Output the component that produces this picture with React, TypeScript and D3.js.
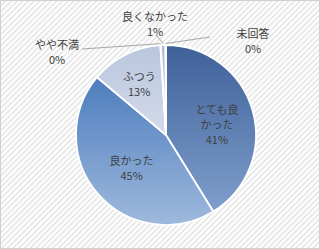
import React from "react";
import * as d3 from "d3";

const categories = ["とても良かった", "良かった", "ふつう", "やや不満", "良くなかった", "未回答"];
const values = [41.2, 44.9, 12.9, 0.1, 0.8, 0.1];
const labelLines = [["とても良", "かった"], ["良かった"], ["ふつう"], ["やや不満"], ["良くなかった"], ["未回答"]];

const W = 320, H = 249;
const CX = 166, CY = 135, R = 90;

const gradTop = ["#3f6199", "#4c7dbd", "#b9c6de", "#c9d3e6", "#a8b9d6", "#6d8cc0"];
const gradBot = ["#7f9ecc", "#9fb9dd", "#d3dbea", "#d3dbea", "#c0cde2", "#8aa5d0"];

// label layout: inside -> radius factor + nudge; outside -> label anchor + leader start
const insideR: Record<number, { f: number; dx: number; dy: number }> = {
  0: { f: 0.6, dx: -1, dy: 4 },
  1: { f: 0.52, dx: 1, dy: 1.5 },
  2: { f: 0.66, dx: 0, dy: 2 },
};
const outside: Record<number, { x: number; y: number; lx: number; ly: number }> = {
  3: { x: 57, y: 44, lx: 82, ly: 49 },
  4: { x: 155, y: 16, lx: 157, ly: 36 },
  5: { x: 253, y: 33, lx: 210, ly: 37 },
};

export default function App() {
  const pie = d3.pie<number>().sort(null).value((d) => d)(values);
  const arc = d3.arc<d3.PieArcDatum<number>>().innerRadius(0).outerRadius(R);
  const pct = (v: number) => Math.round((v / d3.sum(values)) * 100) + "%";
  const fs = 11;
  const lh = 15;
  return (
    <svg width={W} height={H} style={{ position: "absolute", left: 0, top: 0 }} fontFamily="'Noto Sans CJK JP', 'Noto Sans', sans-serif">
      <defs>
        <pattern id="bg" width="4" height="4" patternUnits="userSpaceOnUse" patternTransform="rotate(-45)">
          <rect width="4" height="4" fill="#ffffff" />
          <rect width="4" height="1.6" fill="#e4e4e4" />
        </pattern>
        {pie.map((p, i) => (
          <linearGradient key={i} id={"g" + i} x1="0" y1="0" x2="0" y2="1">
            <stop offset="0" stopColor={gradTop[i]} />
            <stop offset="1" stopColor={gradBot[i]} />
          </linearGradient>
        ))}
      </defs>
      <rect x={0.5} y={0.5} width={W - 1} height={H - 1} fill="url(#bg)" stroke="#d0d0d0" />
      <g transform={`translate(${CX},${CY})`}>
        {pie.map((p, i) => (
          <path key={i} d={arc(p) || ""} fill={`url(#g${i})`} stroke="#ffffff" strokeWidth={1.8} strokeLinejoin="round" />
        ))}
      </g>
      {pie.map((p, i) => {
        const L = insideR[i];
        if (L) {
          const a = (p.startAngle + p.endAngle) / 2;
          const r = R * L.f;
          const x = CX + Math.sin(a) * r + L.dx;
          const y = CY - Math.cos(a) * r + L.dy;
          const lines = [...labelLines[i], pct(values[i])];
          const y0 = y - ((lines.length - 1) * lh) / 2;
          return (
            <text key={i} x={x} textAnchor="middle" fontSize={fs} fill="#404040">
              {lines.map((t, j) => (
                <tspan key={j} x={x} y={y0 + j * lh} dominantBaseline="central">{t}</tspan>
              ))}
            </text>
          );
        }
        return null;
      })}
      {pie.map((p, i) => {
        const o = outside[i];
        if (!o) return null;
        const a = (p.startAngle + p.endAngle) / 2;
        const ex = CX + Math.sin(a) * (R + 1.5);
        const ey = CY - Math.cos(a) * (R + 1.5);
        const lines = [...labelLines[i], pct(values[i])];
        return (
          <g key={i}>
            <line x1={o.lx} y1={o.ly} x2={ex} y2={ey} stroke="#a6a6a6" strokeWidth={1} />
            <text textAnchor="middle" fontSize={fs} fill="#404040">
              {lines.map((t, j) => (
                <tspan key={j} x={o.x} y={o.y + j * lh} dominantBaseline="central">{t}</tspan>
              ))}
            </text>
          </g>
        );
      })}
    </svg>
  );
}
